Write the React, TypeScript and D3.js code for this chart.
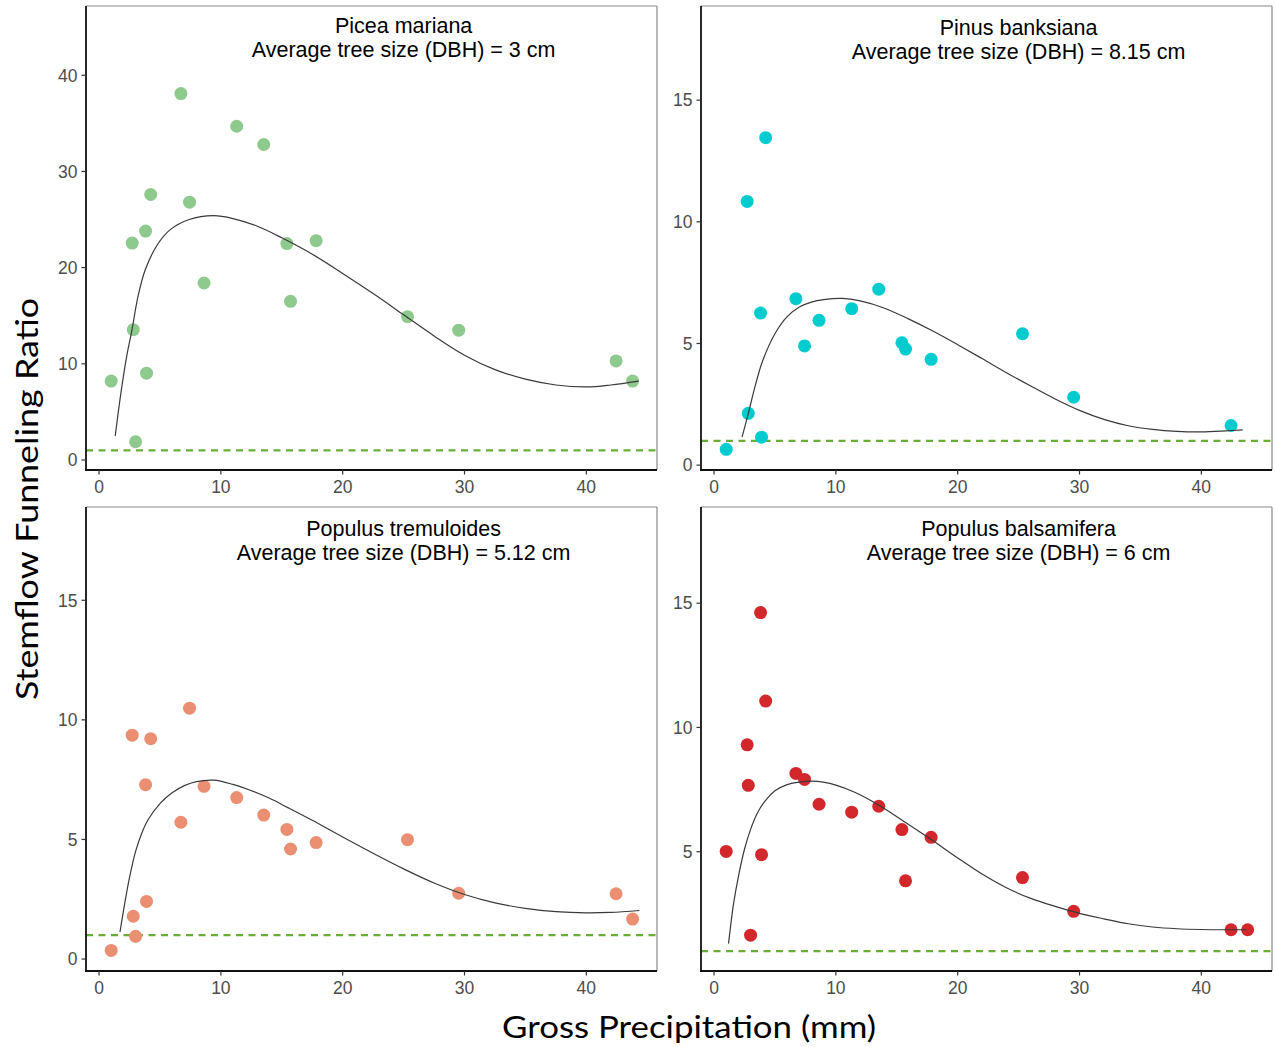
import React from "react";
import * as d3 from "d3";

// Gross precipitation of each sampled event (mm), shared by all species
const precipitation = [1.0, 2.72, 2.81, 3.0, 3.82, 3.9, 4.24, 6.72, 7.43, 8.62, 11.3, 13.52, 15.42, 15.72, 17.82, 25.32, 29.52, 42.44, 43.8];

// Stemflow funneling ratio per event (null = not measured)
const piceaMariana = [8.2, 22.55, 13.55, 1.9, 23.8, 9.03, 27.6, 38.1, 26.8, 18.4, 34.7, 32.8, 22.5, 16.5, 22.8, 14.9, 13.5, 10.3, 8.2];
const pinusBanksiana = [0.65, 10.84, 2.13, null, 6.25, 1.15, 13.46, 6.84, 4.9, 5.95, 6.43, 7.23, 5.03, 4.77, 4.35, 5.4, 2.79, 1.63, null];
const populusTremuloides = [0.36, 9.36, 1.79, 0.95, 7.29, 2.41, 9.21, 5.72, 10.49, 7.22, 6.75, 6.02, 5.42, 4.6, 4.87, 4.99, 2.75, 2.73, 1.67];
const populusBalsamifera = [5.01, 9.3, 7.67, 1.64, 14.62, 4.88, 11.06, 8.15, 7.91, 6.91, 6.59, 6.83, 5.89, 3.83, 5.58, 3.96, 2.6, 1.86, 1.86];

// Fitted response curves (precipitation, ratio)
const piceaFitX = [1.33, 1.8, 2.3, 2.7, 3.2, 3.8, 4.8, 5.8, 7.4, 9.4, 11, 13, 15, 17.5, 20, 22.5, 25, 27.5, 30, 32.5, 35, 37.5, 40, 42, 44.3];
const piceaFitY = [2.5, 7.0, 11.0, 13.5, 17.0, 19.8, 22.4, 23.9, 25.0, 25.4, 25.1, 24.3, 23.1, 21.4, 19.4, 17.3, 15.1, 12.9, 10.9, 9.4, 8.4, 7.8, 7.6, 7.8, 8.2];
const pinusFitX = [2.3, 2.8, 3.4, 4.0, 5.0, 6.0, 7.0, 8.0, 9.0, 10.5, 12, 14, 16, 18, 20, 22, 24, 26, 28, 30, 32, 34, 36, 38, 40, 42, 43.4];
const pinusFitY = [1.15, 2.1, 3.3, 4.3, 5.4, 6.1, 6.5, 6.7, 6.8, 6.85, 6.75, 6.45, 6.0, 5.5, 4.95, 4.38, 3.8, 3.25, 2.72, 2.25, 1.88, 1.62, 1.47, 1.39, 1.37, 1.41, 1.45];
const tremuloidesFitX = [1.72, 2.1, 2.5, 3.0, 3.5, 4.0, 5.0, 6.0, 7.0, 8.0, 9.4, 11, 12.3, 14, 15.5, 17.5, 20, 22.5, 25, 27.5, 30, 32.5, 35, 37.5, 40, 42, 44.35];
const tremuloidesFitY = [1.13, 2.3, 3.4, 4.5, 5.25, 5.8, 6.5, 6.95, 7.25, 7.42, 7.48, 7.3, 7.08, 6.72, 6.33, 5.8, 5.1, 4.42, 3.77, 3.18, 2.7, 2.35, 2.12, 1.98, 1.93, 1.95, 2.03];
const balsamiferaFitX = [1.19, 1.6, 2.0, 2.5, 3.0, 3.5, 4.2, 5.0, 6.0, 7.0, 8.5, 10, 11.5, 13.5, 15.5, 17.8, 20, 22, 24, 26, 28, 30, 32, 34, 36, 38, 40, 42, 43.7];
const balsamiferaFitY = [1.3, 2.9, 4.0, 5.1, 5.9, 6.5, 7.05, 7.45, 7.7, 7.8, 7.83, 7.68, 7.4, 6.88, 6.25, 5.5, 4.75, 4.1, 3.55, 3.12, 2.8, 2.52, 2.3, 2.1, 1.97, 1.9, 1.87, 1.86, 1.86];

const speciesNames = ["Picea mariana", "Pinus banksiana", "Populus tremuloides", "Populus balsamifera"];
const treeSizes = ["3", "8.15", "5.12", "6"];
const xTicks = [0, 10, 20, 30, 40];
const yTicksLarge = [0, 10, 20, 30, 40];
const yTicksSmall = [0, 5, 10, 15];
const referenceRatio = 1;
const titleAnchorX = 25;

const panels = [
  { values: piceaMariana, fitX: piceaFitX, fitY: piceaFitY, color: "#8ec98e", yDomain: [-1.04, 47.2], yTicks: yTicksLarge, x0: 86, y0: 6, titleDy: [27, 51] },
  { values: pinusBanksiana, fitX: pinusFitX, fitY: pinusFitY, color: "#00cbcf", yDomain: [-0.2, 18.87], yTicks: yTicksSmall, x0: 701, y0: 6, titleDy: [29, 53] },
  { values: populusTremuloides, fitX: tremuloidesFitX, fitY: tremuloidesFitY, color: "#eb8f72", yDomain: [-0.5, 18.9], yTicks: yTicksSmall, x0: 86, y0: 507, titleDy: [29, 53] },
  { values: populusBalsamifera, fitX: balsamiferaFitX, fitY: balsamiferaFitY, color: "#d2282b", yDomain: [0.2, 18.87], yTicks: yTicksSmall, x0: 701, y0: 507, titleDy: [29, 53] },
];

const PW = 571;
const PH = 464;
const tickFont = "'Liberation Sans', Arial, sans-serif";

function Panel({ p, i }: { p: any; i: number }) {
  const x = d3.scaleLinear().domain([-1.07, 45.8]).range([p.x0, p.x0 + PW]);
  const y = d3.scaleLinear().domain(p.yDomain).range([p.y0 + PH, p.y0]);
  const fit = d3.zip(p.fitX, p.fitY) as [number, number][];
  const line = d3
    .line<[number, number]>()
    .x((d) => x(d[0]))
    .y((d) => y(d[1]))
    .curve(d3.curveCatmullRom.alpha(0.5));
  const pts = precipitation
    .map((px, k) => ({ px, v: p.values[k] }))
    .filter((d) => d.v !== null);
  const [y0d, y1d] = p.yDomain;
  const yt = p.yTicks.filter((t: number) => t >= y0d && t <= y1d);
  const left = p.x0;
  const right = p.x0 + PW;
  const top = p.y0;
  const bottom = p.y0 + PH;
  return (
    <g>
      <rect x={left} y={top} width={PW} height={PH} fill="white" />
      {/* reference ratio of 1 */}
      <line x1={left} x2={right} y1={y(referenceRatio)} y2={y(referenceRatio)} stroke="#6aae38" strokeWidth={2.3} strokeDasharray="7,5.5" />
      {pts.map((d, k) => (
        <circle key={k} cx={x(d.px)} cy={y(d.v)} r={6.5} fill={p.color} />
      ))}
      <path d={line(fit) || ""} fill="none" stroke="#3a3a3a" strokeWidth={1.2} />
      {/* frame: dark axes on left and bottom, light border on top and right */}
      <line x1={left} x2={right} y1={top} y2={top} stroke="#8a8a8a" strokeWidth={1.2} />
      <line x1={right} x2={right} y1={top} y2={bottom} stroke="#8a8a8a" strokeWidth={1.2} />
      <line x1={left} x2={left} y1={top} y2={bottom + 1} stroke="#111" strokeWidth={1.8} />
      <line x1={left - 1} x2={right} y1={bottom} y2={bottom} stroke="#111" strokeWidth={1.8} />
      {xTicks.map((t) => (
        <g key={"x" + t}>
          <line x1={x(t)} x2={x(t)} y1={bottom} y2={bottom + 4.5} stroke="#333" strokeWidth={1.2} />
          <text x={x(t)} y={bottom + 23} textAnchor="middle" fontFamily={tickFont} fontSize={17.5} fill="#4d4d4d">
            {t}
          </text>
        </g>
      ))}
      {yt.map((t: number) => (
        <g key={"y" + t}>
          <line x1={left - 4.5} x2={left} y1={y(t)} y2={y(t)} stroke="#333" strokeWidth={1.2} />
          <text x={left - 8.5} y={y(t)} dy="0.36em" textAnchor="end" fontFamily={tickFont} fontSize={17.5} fill="#4d4d4d">
            {t}
          </text>
        </g>
      ))}
      <text x={x(titleAnchorX)} y={top + p.titleDy[0]} textAnchor="middle" fontFamily={tickFont} fontSize={21.5} fill="#000">
        {speciesNames[i]}
      </text>
      <text x={x(titleAnchorX)} y={top + p.titleDy[1]} textAnchor="middle" fontFamily={tickFont} fontSize={21.5} fill="#000">
        {`Average tree size (DBH) = ${treeSizes[i]} cm`}
      </text>
    </g>
  );
}

export default function App() {
  return (
    <svg
      width={1275}
      height={1047}
      viewBox="0 0 1275 1047"
      style={{ position: "absolute", left: 0, top: 0, background: "white" }}
    >
      <rect x={0} y={0} width={1275} height={1047} fill="white" />
      {panels.map((p, i) => (
        <Panel key={i} p={p} i={i} />
      ))}
      <text
        transform="translate(38,499) rotate(-90)"
        textAnchor="middle"
        fontFamily="Lato, 'Open Sans', sans-serif"
        fontSize={31}
        textLength={402}
        lengthAdjust="spacingAndGlyphs"
        fill="#000"
      >
        Stemflow Funneling Ratio
      </text>
      <text
        x={689}
        y={1038}
        textAnchor="middle"
        fontFamily="Lato, 'Open Sans', sans-serif"
        fontSize={31}
        textLength={374}
        lengthAdjust="spacingAndGlyphs"
        fill="#000"
      >
        Gross Precipitation (mm)
      </text>
    </svg>
  );
}
